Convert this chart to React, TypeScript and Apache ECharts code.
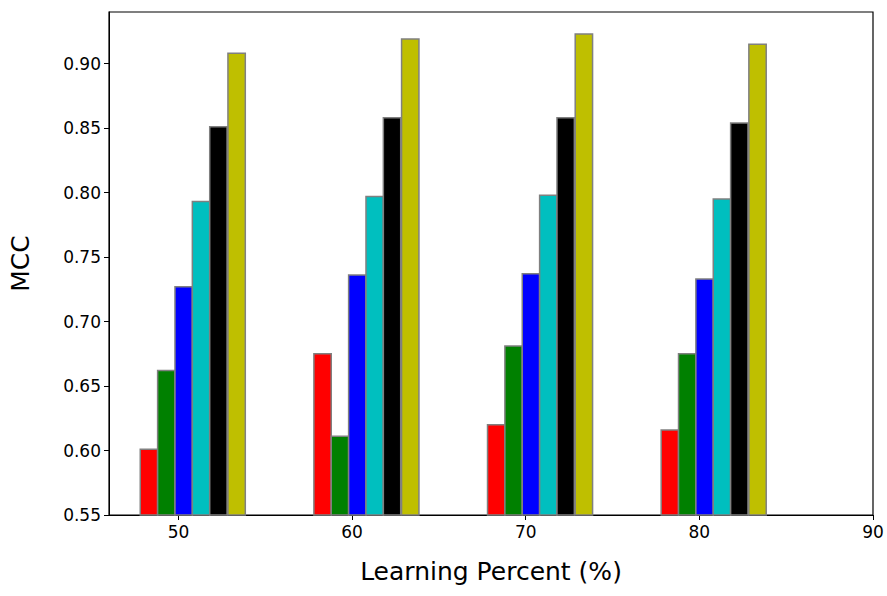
import React, { useEffect, useRef } from "react";
import * as echarts from "echarts";

const groups = [50, 60, 70, 80];
const offsets = [-1.7, -0.7, 0.3, 1.3, 2.3, 3.35];
const colors = ["#ff0000", "#008000", "#0000ff", "#00bfbf", "#000000", "#bfbf00"];
const s1 = [0.601, 0.675, 0.620, 0.616];
const s2 = [0.662, 0.611, 0.681, 0.675];
const s3 = [0.727, 0.736, 0.737, 0.733];
const s4 = [0.793, 0.797, 0.798, 0.795];
const s5 = [0.851, 0.858, 0.858, 0.854];
const s6 = [0.908, 0.919, 0.923, 0.915];
const seriesVals = [s1, s2, s3, s4, s5, s6];
const xTicks = [50, 60, 70, 80, 90];

export default function App() {
  const ref = useRef<HTMLDivElement>(null);
  useEffect(() => {
    const chart = echarts.init(ref.current!, null, { renderer: "svg" });
    const series = seriesVals.map((vals, si) => ({
      type: "custom",
      data: vals.map((v, gi) => [groups[gi] + offsets[si], v]),
      renderItem: (params: any, api: any) => {
        const x = api.value(0), y = api.value(1);
        const p1 = api.coord([x - 0.5, y]);
        const p2 = api.coord([x + 0.5, 0.55]);
        return {
          type: "rect",
          shape: { x: p1[0], y: p1[1], width: p2[0] - p1[0], height: p2[1] - p1[1] },
          style: { fill: colors[si], stroke: "#808080", lineWidth: 1.5 },
        };
      },
    }));
    chart.setOption({
      animation: false,
      grid: { left: 107, right: 14, top: 12, bottom: 81, show: true, borderColor: "#000", borderWidth: 1.2 },
      xAxis: {
        type: "value", min: 46, max: 90,
        name: "Learning Percent (%)", nameLocation: "middle", nameGap: 44,
        nameTextStyle: { fontSize: 25, color: "#000", fontFamily: "DejaVu Sans" },
        axisLine: { lineStyle: { color: "#000" } },
        axisTick: { show: true, length: 5, customValues: xTicks, lineStyle: { color: "#000" } },
        axisLabel: { customValues: xTicks, fontSize: 17, color: "#000", fontFamily: "DejaVu Sans", margin: 8 },
        splitLine: { show: false },
      },
      yAxis: {
        type: "value", min: 0.55, max: 0.94, interval: 0.05,
        name: "MCC", nameLocation: "middle", nameGap: 76,
        nameTextStyle: { fontSize: 25, color: "#000", fontFamily: "DejaVu Sans" },
        axisLine: { show: true, lineStyle: { color: "#000" } },
        axisTick: { show: true, length: 5, lineStyle: { color: "#000" } },
        axisLabel: { fontSize: 17, color: "#000", fontFamily: "DejaVu Sans", showMaxLabel: false, formatter: (v: number) => v.toFixed(2) },
        splitLine: { show: false },
      },
      series,
    });
    return () => chart.dispose();
  }, []);
  return <div ref={ref} style={{ position: "absolute", left: 0, top: 0, width: 887, height: 596 }} />;
}
